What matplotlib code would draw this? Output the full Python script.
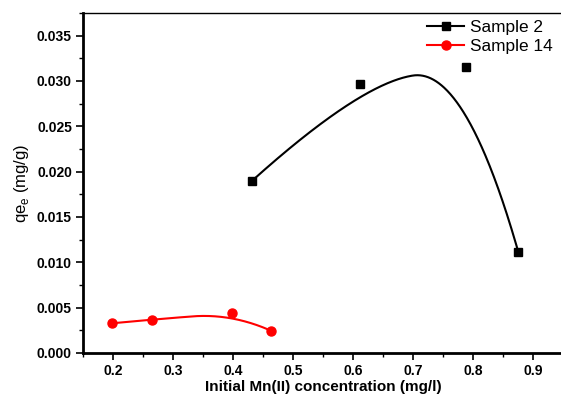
import numpy as np
import matplotlib
matplotlib.use('Agg')
import matplotlib.pyplot as plt
from matplotlib.lines import Line2D
from matplotlib.ticker import MultipleLocator

plt.rcParams['font.family'] = ['Liberation Sans', 'DejaVu Sans']

# data
x_s2 = [0.432, 0.612, 0.788, 0.876]
y_s2 = [0.0190, 0.0297, 0.0315, 0.0111]
x_s14 = [0.199, 0.265, 0.398, 0.463]
y_s14 = [0.00328, 0.00369, 0.00438, 0.00247]


def bspline2(xs, ys, n=200):
    # clamped quadratic B-spline through the end points (4 control points)
    P = np.array([xs, ys]).T
    u = np.linspace(0, 1, n)[:, None]
    seg1 = P[0] * (1 - u)**2 + P[1] * (2*u - 1.5*u**2) + P[2] * (0.5*u**2)
    seg2 = P[1] * 0.5*(1 - u)**2 + P[2] * (0.5 + u - 1.5*u**2) + P[3] * u**2
    c = np.vstack([seg1, seg2])
    return c[:, 0], c[:, 1]


fig = plt.figure(figsize=(5.61, 3.96), dpi=100)
ax = fig.add_axes([83/561, 1 - 353/396, (564 - 83)/561, (353 - 13)/396])

cx, cy = bspline2(x_s2, y_s2)
ax.plot(cx, cy, color='black', lw=1.5)
ax.plot(x_s2, y_s2, 's', color='black', ms=5.5)
cx, cy = bspline2(x_s14, y_s14)
ax.plot(cx, cy, color='red', lw=1.5)
ax.plot(x_s14, y_s14, 'o', color='red', ms=6.5)

ax.set_xlim(0.15, 0.952)
ax.set_ylim(0.0, 0.0375)
ax.xaxis.set_minor_locator(MultipleLocator(0.05))
ax.yaxis.set_minor_locator(MultipleLocator(0.0025))
ax.set_xticks(np.arange(0.2, 0.91, 0.1))
ax.set_yticks(np.arange(0.0, 0.0351, 0.005))
ax.xaxis.set_major_formatter(plt.FormatStrFormatter('%.1f'))
ax.yaxis.set_major_formatter(plt.FormatStrFormatter('%.3f'))

ax.tick_params(which='major', direction='out', length=5, width=1.2,
               labelsize=10, pad=3, top=False, right=False)
ax.tick_params(which='minor', direction='out', length=3, width=1.0,
               top=False, right=False)
for lab in ax.get_xticklabels() + ax.get_yticklabels():
    lab.set_fontweight('bold')

ax.spines['left'].set_linewidth(2)
ax.spines['bottom'].set_linewidth(2)
ax.spines['top'].set_linewidth(1)
ax.spines['right'].set_linewidth(1)

ax.set_xlabel('Initial Mn(II) concentration (mg/l)', fontsize=11,
              fontweight='bold', labelpad=1)
ax.set_ylabel('qe$_{\\mathregular{e}}$ (mg/g)', fontsize=12, labelpad=4)

handles = [Line2D([], [], color='black', marker='s', ms=5.5, lw=1.5),
           Line2D([], [], color='red', marker='o', ms=6.5, lw=1.5)]
ax.legend(handles, ['Sample 2', 'Sample 14'], loc='upper left',
          bbox_to_anchor=(0.70, 1.0), frameon=False, fontsize=12.4,
          handlelength=2.2, handletextpad=0.3, labelspacing=0.25,
          borderaxespad=0)

fig.savefig('out.png', dpi=100)
